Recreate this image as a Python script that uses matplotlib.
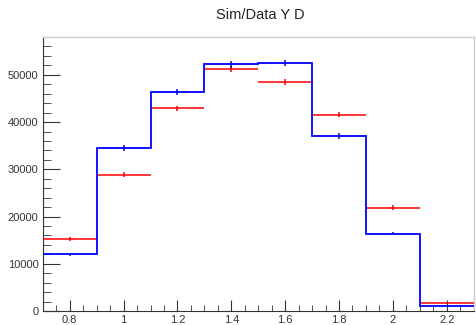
import numpy as np
import matplotlib
matplotlib.use('Agg')
import matplotlib.pyplot as plt
from matplotlib.ticker import MultipleLocator

# Bin edges, contents and error sizes
bin_edges = [0.7, 0.9, 1.1, 1.3, 1.5, 1.7, 1.9, 2.1, 2.3]
sim_counts = [12000, 34500, 46400, 52200, 52500, 37000, 16400, 1100]
sim_errors = [350, 550, 650, 700, 700, 600, 400, 120]
data_counts = [15200, 28900, 42900, 51150, 48400, 41600, 21900, 1700]
data_errors = [400, 550, 600, 650, 650, 600, 450, 150]

plt.rcParams['font.family'] = ['Liberation Sans', 'DejaVu Sans']

edges = np.array(bin_edges)
centers = 0.5 * (edges[:-1] + edges[1:])
half_w = 0.5 * np.diff(edges)

fig = plt.figure(figsize=(4.76, 3.25), dpi=100)
ax = fig.add_axes([0.090, 0.043, 0.905, 0.843])

# Data: red points with horizontal bin-width bars
ax.errorbar(centers, data_counts, xerr=half_w, yerr=data_errors, fmt='none',
            ecolor='#ff0000', elinewidth=1.1, capsize=0, zorder=3)

# Sim: blue step histogram with error ticks
ax.stairs(sim_counts, edges, baseline=None, color='#0000ff', linewidth=1.3, zorder=4)
ax.errorbar(centers, sim_counts, yerr=sim_errors, fmt='none',
            ecolor='#0000ff', elinewidth=1.1, capsize=0, zorder=4)

ax.set_xlim(0.7, 2.3)
ax.set_ylim(0, 58000)

ax.xaxis.set_major_locator(MultipleLocator(0.2))
ax.xaxis.set_minor_locator(MultipleLocator(0.05))
ax.yaxis.set_major_locator(MultipleLocator(10000))
ax.yaxis.set_minor_locator(MultipleLocator(2000))
ax.xaxis.set_major_formatter(plt.FuncFormatter(lambda v, p: f'{v:g}'))
ax.yaxis.set_major_formatter(plt.FuncFormatter(lambda v, p: f'{int(v)}'))

ax.tick_params(axis='both', which='both', direction='in', colors='#333333',
               labelsize=8, top=False, right=False)
ax.tick_params(axis='y', which='major', length=12, pad=3)
ax.tick_params(axis='y', which='minor', length=6)
ax.tick_params(axis='x', which='major', length=8, pad=3)
ax.tick_params(axis='x', which='minor', length=4)

for side in ['left', 'bottom']:
    ax.spines[side].set_color('#333333')
    ax.spines[side].set_linewidth(0.8)
for side in ['top', 'right']:
    ax.spines[side].set_color('#cccccc')
    ax.spines[side].set_linewidth(1.0)

fig.text(0.547, 0.953, 'Sim/Data Y D', ha='center', va='center',
         fontsize=10.5, color='#222222')

fig.savefig('out.png', dpi=100, facecolor='white')
plt.close(fig)
